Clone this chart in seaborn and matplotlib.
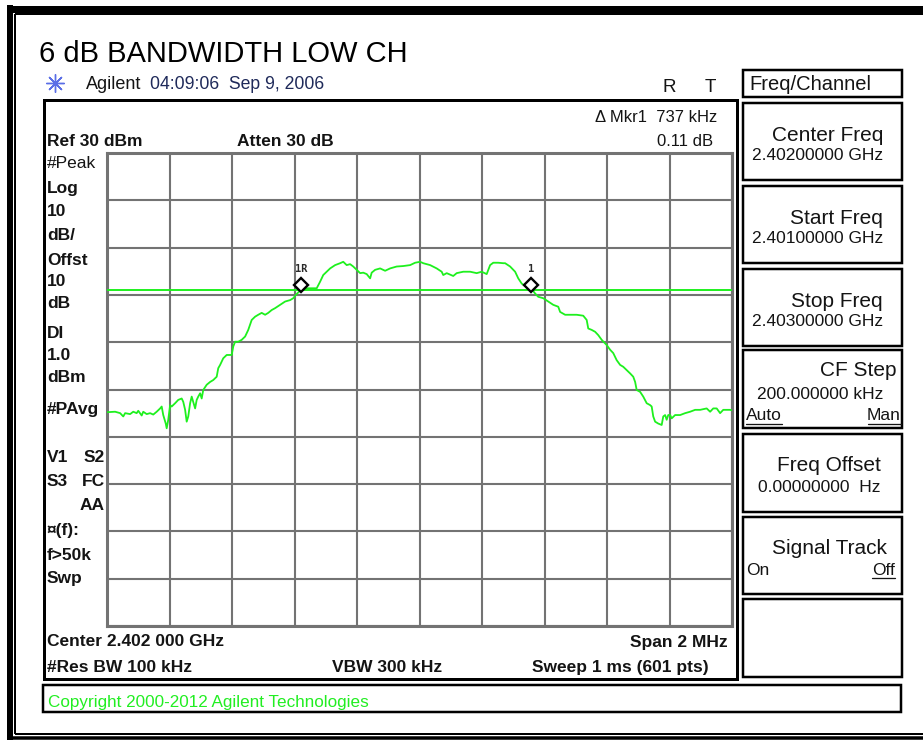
import matplotlib
matplotlib.use("Agg")
import matplotlib.pyplot as plt
from matplotlib.patches import Rectangle
import numpy as np
import pandas as pd
import seaborn as sns

# sweep 2.401 - 2.403 GHz, frequency as kHz above the start frequency
freq_khz = [0, 26, 42, 52, 58, 74, 84, 95, 100, 111, 116, 127, 138, 148, 159, 170, 175, 180, 188, 191,
            196, 202, 207, 218, 228, 239, 244, 250, 255, 260, 266, 271, 276, 282, 287, 292, 298, 303, 308, 319,
            330, 340, 351, 356, 362, 372, 383, 399, 404, 410, 420, 431, 442, 452, 463, 474, 484, 495, 506, 516,
            527, 538, 554, 570, 586, 596, 607, 618,
            634, 671, 682, 692, 703, 714, 730, 746, 756, 767, 778, 788, 799, 810, 820, 831, 842, 847, 858, 874,
            890, 906, 927, 948, 970, 986, 1002, 1012, 1034, 1055, 1071, 1076, 1087, 1108, 1119, 1140, 1162, 1183,
            1199, 1215, 1226, 1236, 1252, 1268,
            1274, 1290, 1306, 1316, 1327, 1343, 1359, 1370, 1380, 1396, 1412, 1428, 1444, 1450, 1466, 1482, 1503,
            1524, 1535, 1540, 1551, 1562, 1572, 1583, 1599, 1610, 1620, 1631, 1642, 1652, 1663, 1674, 1684, 1690,
            1695, 1706, 1716, 1727, 1738, 1743, 1748, 1754, 1764, 1775, 1780, 1786, 1791, 1796, 1802, 1807, 1818,
            1834, 1850, 1866, 1882, 1898, 1919, 1930, 1940, 1951, 1962, 1972, 1994, 2000]
level_dbm = [-24.8, -24.7, -25.0, -25.7, -25.0, -25.2, -24.7, -25.0, -24.5, -25.5, -24.7, -25.2, -25.0, -25.3,
             -24.7, -24.0, -23.6, -25.4, -27.2, -28.2, -26.4, -23.3, -23.6, -22.9, -22.2, -21.9, -22.6, -24.3,
             -26.8, -25.7, -22.9, -21.5, -22.6, -24.0, -22.2, -21.5, -20.8, -21.9, -20.1, -19.0, -18.4, -18.0,
             -17.3, -15.5, -14.8, -13.4, -12.7, -12.7, -10.9, -9.9, -9.9, -9.5, -8.8, -7.4, -5.3, -4.6, -4.2,
             -3.8, -4.2, -3.8, -3.2, -2.8, -2.1, -1.4, -1.1, -0.7, 0.2, 0.9,
             1.4, 1.4, 2.8, 4.2, 4.9, 5.6, 6.3, 6.7, 7.0, 6.3, 6.5, 6.0, 5.3, 4.6, 4.7, 4.4, 3.5, 4.7, 5.3, 5.6,
             5.1, 5.6, 6.0, 6.1, 6.3, 6.8, 7.0, 6.7, 6.3, 5.6, 4.9, 4.2, 4.6, 4.0, 4.6, 4.9, 4.9, 4.6, 4.9, 4.4,
             6.3, 6.8, 6.8, 6.7,
             6.7, 6.0, 4.9, 3.5, 2.4, 1.6, 1.2, 0.3, -0.4, -0.7, -1.4, -2.1, -2.5, -3.6, -4.2, -4.2, -4.2, -4.4,
             -5.3, -7.1, -7.4, -7.8, -8.5, -9.5, -10.6, -11.6, -12.3, -13.8, -14.8, -15.2, -15.9, -16.6, -17.3,
             -18.4, -20.1, -20.5, -21.5, -22.9, -23.3, -23.6, -25.7, -26.8, -27.2, -27.5, -25.7, -25.4, -26.4,
             -25.4, -25.4, -26.1, -25.4, -25.4, -25.0, -24.7, -24.3, -24.3, -24.0, -24.7, -24.0, -24.0, -25.0,
             -24.3, -24.3, -24.4]

marker_names = ["1R", "1"]
marker_khz = [621, 1358]
marker_dbm = [2.1, 2.1]
display_line_dbm = 1.0

ref_level = 30
db_per_div = 10
span_khz = 2000

softkeys = [("Center Freq", "2.40200000 GHz"),
            ("Start Freq", "2.40100000 GHz"),
            ("Stop Freq", "2.40300000 GHz")]

GREEN = "#1ef01e"
GRID = "#737373"
INK = "#141414"
W, H = 923, 740

sns.set_style("white")
plt.rcParams["font.family"] = ["Liberation Sans", "DejaVu Sans"]

fig = plt.figure(figsize=(W / 100, H / 100), dpi=100)

# overlay in pixel coordinates for the instrument frame and labels
ov = fig.add_axes([0, 0, 1, 1])
ov.set_xlim(0, W)
ov.set_ylim(H, 0)
ov.axis("off")


def px(v):
    return v * 0.72


def box(x0, y0, x1, y1, lw=2.5, color="black"):
    ov.add_patch(Rectangle((x0, y0), x1 - x0, y1 - y0, fill=False, ec=color, lw=px(lw)))


def txt(x, y, s, size=12.5, ha="left", weight="normal", color=INK, **kw):
    ov.text(x, y, s, fontsize=size, ha=ha, va="baseline", fontweight=weight, color=color, **kw)


def underline(x0, x1, y):
    ov.plot([x0, x1], [y, y], color=INK, lw=px(1.3))


# page border (double line)
ov.plot([9.5, W], [8.5, 8.5], color="black", lw=px(7), solid_capstyle="butt")
ov.plot([15, W], [14, 14], color="black", lw=px(2), solid_capstyle="butt")
ov.plot([9.5, 9.5], [5, 740], color="black", lw=px(6), solid_capstyle="butt")
ov.plot([15, 15], [14, 734], color="black", lw=px(2), solid_capstyle="butt")
ov.plot([15, W], [734, 734], color="black", lw=px(2), solid_capstyle="butt")
ov.plot([9.5, W], [738, 738], color="black", lw=px(3.5), solid_capstyle="butt")

# header
txt(39, 61.5, "6 dB BANDWIDTH LOW CH", size=21, color="black")
ov.plot(55, 83, marker=(8, 2, 0), ms=13, color="#5a6ee6", mew=1.0)
txt(86, 89, "Agilent", size=13, color=INK)
txt(150, 89, "04:09:06  Sep 9, 2006", size=12.7, color="#1f2a5a")
txt(663, 92, "R", size=13.5)
txt(705, 92, "T", size=13.5)

# main display panel
box(44, 100, 737, 679, lw=3)
txt(47, 146.5, "Ref 30 dBm", weight="bold")
txt(237, 146.5, "Atten 30 dB", weight="bold")
txt(717, 121.5, "\u0394 Mkr1  737 kHz", size=12, ha="right")
txt(713, 146.5, "0.11 dB", size=12, ha="right")

left_labels = [("#Peak", 168, "normal"), ("Log", 192.5, "bold"), ("10", 216.5, "bold"),
               ("dB/", 240.5, "bold"), ("Offst", 265, "bold"), ("10", 286.5, "bold"),
               ("dB", 308.5, "bold"), ("DI", 338.5, "bold"), ("1.0", 359.5, "bold"),
               ("dBm", 381.5, "bold"), ("#PAvg", 414, "bold"), ("V1", 461.5, "bold"),
               ("S3", 486, "bold"), ("\u00a4(f):", 535, "bold"), ("f>50k", 559.5, "bold"),
               ("Swp", 583.5, "bold")]
for s, y, w in left_labels:
    txt(47, y, s, size=12.5, weight=w)
txt(105, 461.5, "S2", ha="right", weight="bold")
txt(105, 486, "FC", ha="right", weight="bold")
txt(105, 510.5, "AA", ha="right", weight="bold")

txt(47, 646.5, "Center 2.402 000 GHz", weight="bold")
txt(728, 646.5, "Span 2 MHz", ha="right", weight="bold")
txt(47, 672, "#Res BW 100 kHz", weight="bold")
txt(332, 672, "VBW 300 kHz", weight="bold")
txt(709, 672, "Sweep 1 ms (601 pts)", ha="right", weight="bold")

# copyright strip
box(43, 685, 901, 712, lw=2.5)
txt(48, 706.5, "Copyright 2000-2012 Agilent Technologies", size=12.3, color="#22ee22")

# softkey column
box(743, 70, 902, 97, lw=2.5)
txt(749, 90.5, "Freq/Channel", size=14.5)
top = 103
for label, value in softkeys:
    box(743, top, 902, top + 77)
    txt(883, top + 38, label, size=15, ha="right")
    txt(883, top + 57, value, size=12.5, ha="right")
    top += 83
# CF Step
box(743, 350, 902, 428)
txt(896, 376, "CF Step", size=15, ha="right")
txt(883, 399, "200.000000 kHz", size=12.5, ha="right")
txt(746, 420, "Auto", size=12.5)
underline(746, 782, 423.5)
txt(901, 420, "Man", size=12.5, ha="right")
underline(868, 901, 423.5)
# Freq Offset
box(743, 434, 902, 512)
txt(881, 471, "Freq Offset", size=15, ha="right")
txt(758, 492.5, "0.00000000  Hz", size=12.5)
# Signal Track
box(743, 517, 902, 594)
txt(887, 553.5, "Signal Track", size=15, ha="right")
txt(746, 575, "On", size=12.5)
txt(895, 575, "Off", size=12.5, ha="right")
underline(872, 895, 578)
# empty key
box(743, 599, 902, 677)

# trace graticule
ax = fig.add_axes([107 / W, 1 - 626 / H, 625 / W, 473 / H])
ax.set_facecolor("white")
df = pd.DataFrame({"freq": freq_khz, "level": level_dbm})
sns.lineplot(data=df, x="freq", y="level", ax=ax, color=GREEN, lw=1.3, estimator=None, zorder=3)
ax.axhline(display_line_dbm, color=GREEN, lw=1.4, zorder=3)
for name, mx, my in zip(marker_names, marker_khz, marker_dbm):
    ax.plot(mx, my, marker="D", ms=7.5, mfc="white", mec="black", mew=1.7, zorder=4)
    ax.annotate(name, (mx, my), xytext=(0, 9), textcoords="offset points", ha="center",
                fontsize=7.5, fontweight="bold", family="DejaVu Sans Mono", color="#2a2a2a")

ax.set_xlim(0, span_khz)
ax.set_ylim(ref_level - 10 * db_per_div, ref_level)
ax.set_xticks(np.arange(0, span_khz + 1, span_khz / 10))
ax.set_yticks(np.arange(ref_level - 10 * db_per_div, ref_level + 1, db_per_div))
ax.grid(True, color=GRID, lw=1.5)
ax.set_axisbelow(True)
ax.tick_params(length=0, labelbottom=False, labelleft=False)
ax.set_xlabel("")
ax.set_ylabel("")
for sp in ax.spines.values():
    sp.set_visible(True)
    sp.set_color(GRID)
    sp.set_linewidth(2.2)

fig.savefig("out.png", dpi=100)
